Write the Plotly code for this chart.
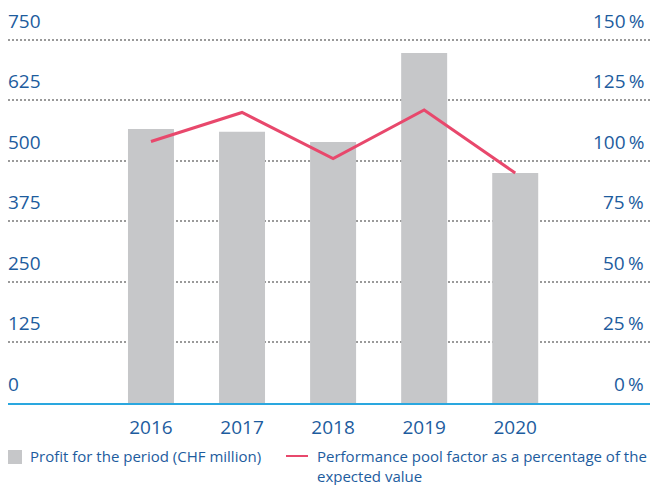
import plotly.graph_objects as go

years = ['2016', '2017', '2018', '2019', '2020']
profit = [566, 560, 539, 723, 475]
pool_factor = [108, 120, 101, 121, 95]

left_ticks = [0, 125, 250, 375, 500, 625, 750]
right_ticks = [0, 25, 50, 75, 100, 125, 150]
right_labels = [f"{v}\u2009%" for v in right_ticks]

BLUE_TXT = '#1d5c9e'
BAR = '#c6c7c9'
LINE = '#e8486c'
AXIS = '#2aa7df'
FONT = 'Open Sans'

# the page body has an 8px margin, so the figure is laid out 8px up/left of the target
PW, PH = 642, 368  # plot area size in px
BOTTOM = 395       # plot bottom in figure px
top = 760

fig = go.Figure()
fig.add_trace(go.Bar(
    x=list(range(len(years))), y=profit, name='Profit for the period (CHF million)',
    marker=dict(color=BAR, line=dict(width=0)), width=0.505,
))
fig.add_trace(go.Scatter(
    x=list(range(len(years))), y=pool_factor, yaxis='y2', mode='lines',
    name='Performance pool factor as a percentage of the expected value',
    line=dict(color=LINE, width=3),
))

# tick labels sit above the gridlines, so they are annotations
for v in left_ticks:
    fig.add_annotation(x=0, xref='paper', xanchor='left', y=v, yref='y', yanchor='bottom',
                       text=str(v), showarrow=False, yshift=4, xshift=-2,
                       font=dict(size=19, color=BLUE_TXT))
for v, t in zip(right_ticks, right_labels):
    fig.add_annotation(x=1, xref='paper', xanchor='right', y=v, yref='y2', yanchor='bottom',
                       text=t, showarrow=False, yshift=4, xshift=-4,
                       font=dict(size=19, color=BLUE_TXT))


def py(px_below):
    return -px_below / PH


# legend
fig.add_shape(type='rect', xref='paper', yref='paper', x0=0, x1=14 / PW,
              y0=py(47), y1=py(61), fillcolor=BAR, line=dict(width=0))
fig.add_annotation(x=22 / PW, xref='paper', xanchor='left', y=py(41), yref='paper',
                   yanchor='top', text='Profit for the period (CHF million)', xshift=-2,
                   showarrow=False, align='left', font=dict(size=15, color=BLUE_TXT))
fig.add_shape(type='line', xref='paper', yref='paper', x0=278 / PW, x1=300 / PW,
              y0=py(53), y1=py(53), line=dict(color=LINE, width=2))
fig.add_annotation(x=309 / PW, xref='paper', xanchor='left', y=py(41), yref='paper',
                   yanchor='top', xshift=-2,
                   text='Performance pool factor as a percentage of the<br>expected value',
                   showarrow=False, align='left', font=dict(size=15, color=BLUE_TXT))

fig.update_layout(
    width=658, height=485,
    margin=dict(l=0, r=658 - PW, t=BOTTOM - PH, b=485 - BOTTOM, autoexpand=False),
    paper_bgcolor='white', plot_bgcolor='white',
    font=dict(family=FONT, color=BLUE_TXT, size=18),
    showlegend=False,
    xaxis=dict(
        range=[-1.57, 5.48], tickvals=list(range(len(years))), ticktext=years,
        showgrid=False, zeroline=False, showline=True, linecolor=AXIS, linewidth=1.5,
        ticks='', tickfont=dict(size=19, color=BLUE_TXT), ticklabelstandoff=6,
        automargin=False,
    ),
    yaxis=dict(
        range=[0, top], tickvals=left_ticks, showticklabels=False, showgrid=True,
        gridcolor='#9a9a9a', griddash='1.5px,2.5px', gridwidth=1.5, zeroline=False,
        ticks='', automargin=False,
    ),
    yaxis2=dict(
        range=[0, top * 150 / 750], overlaying='y', side='right', showticklabels=False,
        showgrid=False, zeroline=False, ticks='', automargin=False,
    ),
)

fig.write_html("out.html")
